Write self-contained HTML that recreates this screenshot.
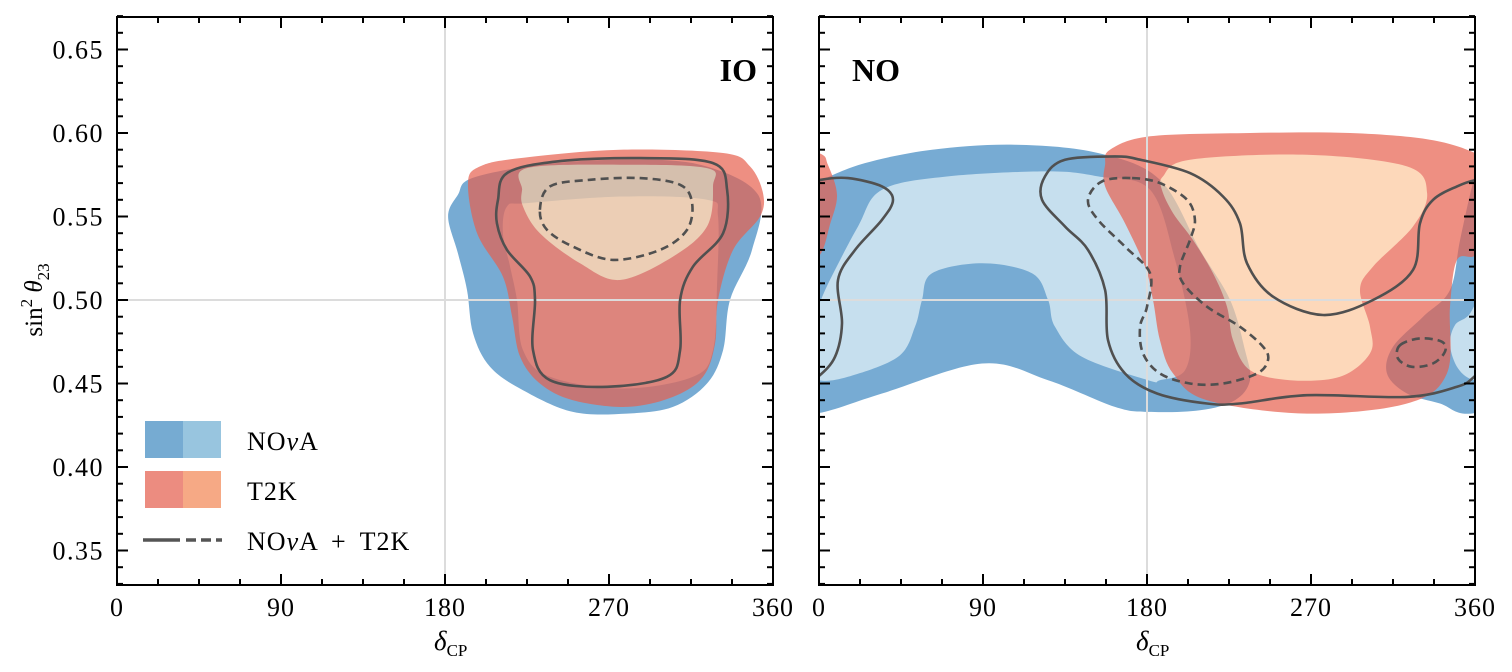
<!DOCTYPE html>
<html><head><meta charset="utf-8"><style>
body{margin:0;background:#fff;}
svg{display:block;font-family:"Liberation Serif",serif;}
</style></head><body>
<svg id="chart" width="1512" height="672" viewBox="0 0 1512 672" xmlns="http://www.w3.org/2000/svg">
<defs>
<clipPath id="clipL"><rect x="117" y="17" width="656" height="568"/></clipPath>
<clipPath id="clipR"><rect x="819" y="17" width="656" height="568"/></clipPath>
</defs>
<g id="panelL"></g>
<g id="panelR"></g>
<text x="757" y="81" text-anchor="end" font-weight="bold" font-size="32">IO</text>
<text x="852" y="81" font-weight="bold" font-size="32">NO</text>
<text transform="translate(42,300) rotate(-90)" text-anchor="middle" font-size="25">sin<tspan dy="-10" font-size="17">2</tspan><tspan dy="10" font-style="italic"> θ</tspan><tspan dy="7" font-size="17">23</tspan></text>
<text x="434" y="650" font-size="27" font-style="italic">δ<tspan dy="6" font-size="17" font-style="normal">CP</tspan></text>
<text x="1136" y="650" font-size="27" font-style="italic">δ<tspan dy="6" font-size="17" font-style="normal">CP</tspan></text>
<g>
<rect x="145" y="421" width="38" height="37" fill="#76abd2"/>
<rect x="183" y="421" width="38" height="37" fill="#98c5df"/>
<text x="247" y="450" font-size="26" letter-spacing="1">NO<tspan font-style="italic">ν</tspan>A</text>
<rect x="145" y="471" width="38" height="37" fill="#ec8c80"/>
<rect x="183" y="471" width="38" height="37" fill="#f6a985"/>
<text x="247" y="500" font-size="26" letter-spacing="1">T2K</text>
<line x1="143" y1="540" x2="180" y2="540" stroke="#555" stroke-width="3.5"/>
<line x1="186" y1="540" x2="222" y2="540" stroke="#555" stroke-width="3.5" stroke-dasharray="10,5"/>
<text x="247" y="550" font-size="26" letter-spacing="1" word-spacing="6">NO<tspan font-style="italic">ν</tspan>A + T2K</text>
</g>
</svg>
<script>
// ---- data (delta_CP in degrees, sin^2 theta23) ----
const xTicks = [0, 90, 180, 270, 360];
const yTicks = [0.35, 0.40, 0.45, 0.50, 0.55, 0.60, 0.65];
// IO panel
const ioNovaOuterD = [181.7,187.1,194.8,232.1,276.0,320.0,351.8,348.5,336.4,332.6,323.8,305.1,279.9,250.2,222.8,204.7,195.4,192.1,187.1];
const ioNovaOuterS = [0.550,0.563,0.573,0.581,0.584,0.581,0.563,0.530,0.500,0.470,0.450,0.436,0.432,0.433,0.446,0.460,0.480,0.506,0.528];
const ioNovaInnerD = [211.8,214.0,225.0,277.7,323.8,329.8,329.3,327.1,316.1,277.7,237.6,222.8,219.5,215.7];
const ioNovaInnerS = [0.540,0.556,0.558,0.562,0.560,0.550,0.510,0.470,0.454,0.447,0.454,0.470,0.500,0.520];
const ioT2kOuterD = [192.6,197.6,211.8,216.8,221.2,232.1,250.2,279.9,305.1,321.6,328.2,329.8,338.1,352.9,354.5,347.4,332.6,276.0,221.2,199.2];
const ioT2kOuterS = [0.570,0.540,0.514,0.490,0.466,0.450,0.440,0.436,0.442,0.454,0.474,0.500,0.530,0.550,0.564,0.580,0.588,0.590,0.585,0.580];
const ioT2kInnerD = [222.3,225.0,276.0,323.8,327.1,323.8,305.1,276.0,254.1,232.1,222.8];
const ioT2kInnerS = [0.566,0.579,0.581,0.579,0.568,0.544,0.526,0.512,0.522,0.540,0.556];
const ioCombSolidD = [209.1,214.0,241.5,287.0,327.1,334.8,332.6,316.1,309.0,309.0,301.8,268.9,237.6,228.3,229.4,226.7,214.0,208.5];
const ioCombSolidS = [0.560,0.576,0.583,0.585,0.582,0.566,0.540,0.520,0.500,0.470,0.454,0.448,0.452,0.470,0.500,0.514,0.530,0.546];
const ioCombDashD = [232.1,237.6,259.6,287.0,309.0,315.6,312.8,298.0,272.2,250.2,236.0];
const ioCombDashS = [0.554,0.568,0.572,0.573,0.569,0.558,0.542,0.530,0.524,0.532,0.542];
// NO panel (delta may exceed 360: periodic)
const noNovaOuterD = [358.9,361.6,385.2,422.0,467.6,513.1,547.1,569.1,585.6,593.8,596.5,588.3,569.1,540.6,522.4,485.7,449.5,394.6,357.8,340.8,322.7,311.7,315.0,331.5,346.3,351.8];
const noNovaOuterS = [0.570,0.572,0.582,0.590,0.593,0.588,0.572,0.530,0.500,0.470,0.452,0.440,0.434,0.433,0.436,0.452,0.462,0.444,0.432,0.438,0.444,0.456,0.472,0.490,0.506,0.536];
const noNovaInnerD = [357.3,349.0,346.3,350.7,360.0,375.9,403.4,412.7,416.5,422.0,449.5,476.9,485.7,489.5,504.3,540.6,547.1,560.9,563.6,555.4,541.7,513.1,485.7,430.8,394.6,381.4,366.0];
const noNovaInnerS = [0.492,0.485,0.473,0.459,0.452,0.454,0.466,0.484,0.500,0.516,0.522,0.516,0.500,0.484,0.466,0.452,0.452,0.458,0.482,0.524,0.566,0.574,0.577,0.574,0.566,0.544,0.512];
const noT2kOuterD = [157.0,167.9,178.9,183.3,187.1,194.3,212.9,267.8,322.7,344.6,346.3,350.1,360.5,366.0,369.9,364.9,360.0,335.3,291.4,236.5,181.7,159.7,157.0];
const noT2kOuterS = [0.568,0.546,0.520,0.500,0.476,0.456,0.440,0.432,0.438,0.456,0.496,0.524,0.527,0.545,0.563,0.581,0.588,0.596,0.600,0.600,0.598,0.590,0.581];
const noT2kInnerD = [188.8,203.6,267.8,322.7,333.7,326.0,304.0,296.9,302.4,302.4,285.9,258.5,236.5,227.2,223.9,216.2,205.2,194.3,188.2];
const noT2kInnerS = [0.574,0.584,0.587,0.580,0.564,0.544,0.520,0.506,0.484,0.468,0.454,0.452,0.458,0.476,0.496,0.516,0.536,0.552,0.566];
const noCombSolidD = [135.0,162.4,176.2,203.6,221.7,231.0,234.9,249.2,276.6,304.0,326.0,329.8,337.0,350.1,361.1,375.9,394.6,400.6,394.6,379.8,370.4,372.6,368.8,359.5,350.1,322.7,267.8,231.0,212.9,185.5,167.9,158.6,157.0,147.6,135.0,122.4,124.0];
const noCombSolidS = [0.584,0.586,0.584,0.576,0.562,0.546,0.522,0.502,0.491,0.500,0.518,0.546,0.560,0.568,0.572,0.573,0.568,0.560,0.548,0.530,0.512,0.486,0.466,0.454,0.448,0.442,0.443,0.438,0.438,0.444,0.456,0.476,0.506,0.530,0.544,0.560,0.574];
const noCombDashD = [171.8,187.1,202.0,206.3,203.6,198.1,199.8,212.9,231.0,243.7,246.4,240.4,221.7,203.6,187.1,177.8,176.2,180.0,181.7,167.9,153.1,147.6,155.3];
const noCombDashS = [0.573,0.570,0.560,0.548,0.536,0.520,0.510,0.496,0.484,0.472,0.464,0.456,0.450,0.450,0.456,0.468,0.484,0.496,0.516,0.532,0.548,0.560,0.571];
const noCombDash2D = [318.9,329.8,341.9,343.5,336.9,325.4,317.7];
const noCombDash2S = [0.473,0.477,0.475,0.469,0.462,0.460,0.465];

const NS = "http://www.w3.org/2000/svg";
const W = 656, Y0 = 17, Y1 = 585;
function yScale(s){ return 300 - (s - 0.5) * 1670; }
function mk(tag, attrs, parent){
  const e = document.createElementNS(NS, tag);
  for (const k in attrs) e.setAttribute(k, attrs[k]);
  parent.appendChild(e); return e;
}
function smoothPath(px){
  const n = px.length; let d = "M" + px[0][0].toFixed(1) + "," + px[0][1].toFixed(1);
  for (let i = 0; i < n; i++){
    const p0 = px[(i-1+n)%n], p1 = px[i], p2 = px[(i+1)%n], p3 = px[(i+2)%n];
    const c1x = p1[0] + (p2[0]-p0[0])/6, c1y = p1[1] + (p2[1]-p0[1])/6;
    const c2x = p2[0] - (p3[0]-p1[0])/6, c2y = p2[1] - (p3[1]-p1[1])/6;
    d += "C" + c1x.toFixed(1) + "," + c1y.toFixed(1) + " " + c2x.toFixed(1) + "," + c2y.toFixed(1) + " " + p2[0].toFixed(1) + "," + p2[1].toFixed(1);
  }
  return d + "Z";
}
function drawPanel(g, x0, clipId, shapes, shifts, showYLabels, name){
  const xs = d => x0 + d / 360 * W;
  const cg = mk("g", {"clip-path": "url(#" + clipId + ")"}, g);
  function shape(D, S, attrs, parent, nm){
    shifts.forEach(sh => {
      const pts = D.map((d, i) => [xs(d + sh), yScale(S[i])]);
      const p = mk("path", Object.assign({d: smoothPath(pts)}, attrs), parent);
      
      
    });
  }
  shape(shapes.nO[0], shapes.nO[1], {fill: "#77abd3"}, cg, "nova-3sigma-region");
  shape(shapes.nI[0], shapes.nI[1], {fill: "#c6dfee"}, cg, "nova-1sigma-region");
  const rg = mk("g", {opacity: "0.7"}, cg);
  shape(shapes.tO[0], shapes.tO[1], {fill: "rgb(231,96,78)"}, rg, "t2k-3sigma-region");
  shape(shapes.tI[0], shapes.tI[1], {fill: "rgb(253,200,157)"}, rg, "t2k-1sigma-region");
  const gv = mk("line", {x1: xs(180), x2: xs(180), y1: Y0, y2: Y1, stroke: "#dcdcdc", "stroke-width": 2}, cg);
  
  
  const gh = mk("line", {x1: x0, x2: x0 + W, y1: yScale(0.5), y2: yScale(0.5), stroke: "#dcdcdc", "stroke-width": 2}, cg);
  
  
  shapes.lines.forEach(L => shape(L[0], L[1], {fill: "none", stroke: "#505050", "stroke-width": 2.6, "stroke-dasharray": L[2] ? "8,5" : "none"}, cg, L[2] ? "combined-1sigma-contour" : "combined-3sigma-contour"));
  const fr = mk("rect", {x: x0, y: Y0, width: W, height: Y1 - Y0, fill: "none", stroke: "#000", "stroke-width": 2}, g);
  
  
  for (let k = 0; k <= 16; k++){
    const d = k * 22.5, major = k % 4 === 0, len = major ? 11 : 6, x = xs(d);
    mk("line", {x1: x, x2: x, y1: Y1, y2: Y1 - len, stroke: "#000", "stroke-width": 2}, g);
    mk("line", {x1: x, x2: x, y1: Y0, y2: Y0 + len, stroke: "#000", "stroke-width": 2}, g);
  }
  xTicks.forEach(v => {
    const t = mk("text", {x: xs(v), y: 616, "text-anchor": "middle", "font-size": 26, "letter-spacing": 1}, g);
    t.textContent = String(v);
    
    
  });
  for (let k = 33; k <= 67; k++){
    const s = k / 100, y = yScale(s), major = k % 5 === 0, len = major ? 11 : 6;
    mk("line", {x1: x0, x2: x0 + len, y1: y, y2: y, stroke: "#000", "stroke-width": 2}, g);
    mk("line", {x1: x0 + W, x2: x0 + W - len, y1: y, y2: y, stroke: "#000", "stroke-width": 2}, g);
  }
  if (showYLabels){
    yTicks.forEach(v => {
      const t = mk("text", {x: 104, y: yScale(v) + 9, "text-anchor": "end", "font-size": 26, "letter-spacing": 1.5}, g);
      t.textContent = v.toFixed(2);
      
      
    });
  }
}
drawPanel(document.getElementById("panelL"), 117, "clipL", {
  nO: [ioNovaOuterD, ioNovaOuterS], nI: [ioNovaInnerD, ioNovaInnerS],
  tO: [ioT2kOuterD, ioT2kOuterS], tI: [ioT2kInnerD, ioT2kInnerS],
  lines: [[ioCombSolidD, ioCombSolidS, false], [ioCombDashD, ioCombDashS, true]]
}, [0], true, "io");
drawPanel(document.getElementById("panelR"), 819, "clipR", {
  nO: [noNovaOuterD, noNovaOuterS], nI: [noNovaInnerD, noNovaInnerS],
  tO: [noT2kOuterD, noT2kOuterS], tI: [noT2kInnerD, noT2kInnerS],
  lines: [[noCombSolidD, noCombSolidS, false], [noCombDashD, noCombDashS, true], [noCombDash2D, noCombDash2S, true]]
}, [0, -360], false, "no");
</script>
</body></html>
